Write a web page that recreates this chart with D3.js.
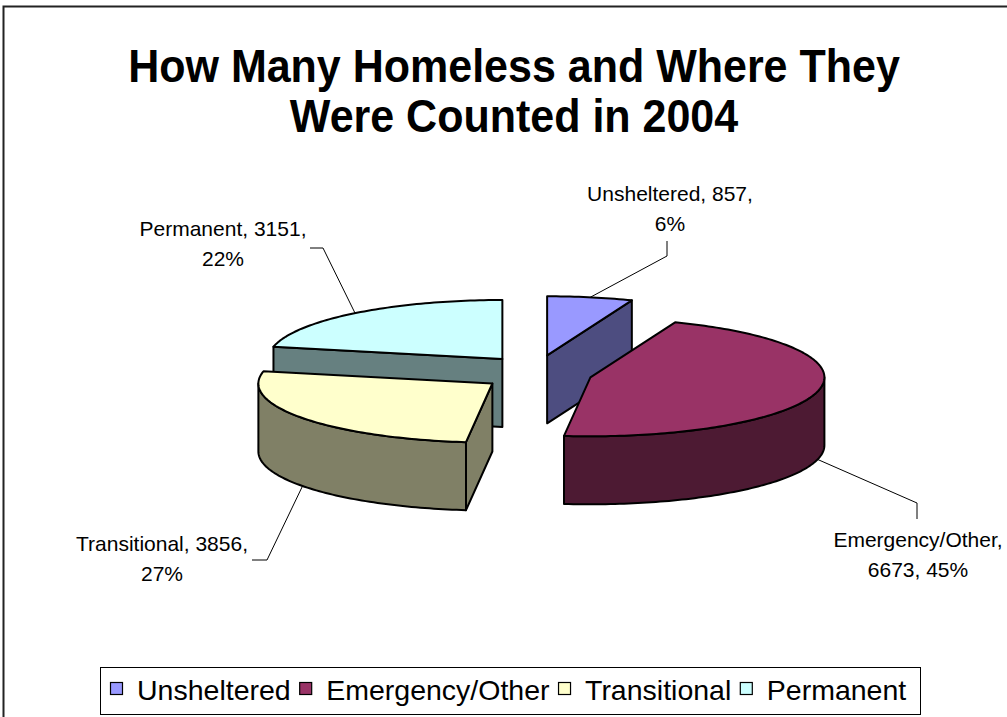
<!DOCTYPE html>
<html>
<head>
<meta charset="utf-8">
<script src="https://cdn.jsdelivr.net/npm/d3@7"></script>
<style>
  html, body { margin: 0; padding: 0; background: #fff; }
  svg { display: block; font-family: "Liberation Sans", Arial, sans-serif; }
</style>
</head>
<body>
<svg id="chart" width="1007" height="717"></svg>
<script>
// ---- data ----
const categories = ["Unsheltered", "Emergency/Other", "Transitional", "Permanent"];
const values = [857, 6673, 3856, 3151];
const percentLabels = ["6%", "45%", "27%", "22%"];
const titleLines = ["How Many Homeless and Where They", "Were Counted in 2004"];

// ---- styles ----
const topColors  = ["#9999FF", "#993366", "#FFFFCC", "#CCFFFF"];
const sideColors = ["#4D4D80", "#4D1A33", "#808066", "#668080"];

// ---- 3D pie geometry ----
const pieCenter = { x: 537, y: 373 };
const rx = 234, ry = 59, depth = 68;
const explode = { x: 55, y: 18 };

// label placement: centre x, first baseline, leader elbow and end
const labelLayout = [
  { cx: 670, y: 201, breakAfterValue: true,  elbow: [667, 256], end: [667, 241] },
  { cx: 918, y: 547, breakAfterValue: false, elbow: [917, 503], end: [917, 519] },
  { cx: 162, y: 551, breakAfterValue: true,  elbow: [267, 560], end: [252, 560] },
  { cx: 223, y: 236, breakAfterValue: true,  elbow: [323, 248], end: [310, 248] }
];
const lineGap = 30;

const svg = d3.select("#chart");

// outer frame (left and top edges visible)
svg.append("rect")
  .attr("x", 3.5).attr("y", 6.5)
  .attr("width", 1100).attr("height", 800)
  .attr("fill", "none").attr("stroke", "#222").attr("stroke-width", 2);

// title
const title = svg.append("g").attr("font-weight", "bold").attr("font-size", 47).attr("fill", "#000");
titleLines.forEach((t, i) => {
  title.append("text")
    .attr("transform", `translate(514,${82 + i * 50}) scale(0.915,1)`)
    .attr("text-anchor", "middle")
    .text(t);
});

// pie angles (clockwise from 12 o'clock)
const arcs = d3.pie().sort(null).startAngle(0).endAngle(2 * Math.PI)(values);

function centerOf(a) {
  const m = (a.startAngle + a.endAngle) / 2;
  return { x: pieCenter.x + explode.x * Math.sin(m), y: pieCenter.y - explode.y * Math.cos(m) };
}
function pt(c, th, h) {
  return [c.x + rx * Math.sin(th), c.y - ry * Math.cos(th) + (h || 0)];
}
function arcPoints(c, a0, a1, h) {
  const n = Math.max(2, Math.ceil(Math.abs(a1 - a0) / 0.02));
  return d3.range(n + 1).map(i => pt(c, a0 + (a1 - a0) * i / n, h));
}
const line = d3.line();

const slices = arcs.map((a, i) => ({ a, i, c: centerOf(a) }));
// paint back slices first
const order = slices.slice().sort((p, q) => p.c.y - q.c.y);

const pieG = svg.append("g")
  .attr("stroke", "#000").attr("stroke-width", 2).attr("stroke-linejoin", "round");

order.forEach(({ a, i, c }) => {
  const g = pieG.append("g");
  const a0 = a.startAngle, a1 = a.endAngle;
  const eps = 1e-6;
  // radial side faces
  if (Math.sin(a0) < -eps) {
    const p = pt(c, a0);
    g.append("path").attr("fill", sideColors[i])
      .attr("d", line([[c.x, c.y], p, [p[0], p[1] + depth], [c.x, c.y + depth]]) + "Z");
  }
  if (Math.sin(a1) > eps) {
    const p = pt(c, a1);
    g.append("path").attr("fill", sideColors[i])
      .attr("d", line([[c.x, c.y], p, [p[0], p[1] + depth], [c.x, c.y + depth]]) + "Z");
  }
  // outer rim (front half only)
  const f0 = Math.max(a0, Math.PI / 2), f1 = Math.min(a1, 3 * Math.PI / 2);
  if (f1 > f0) {
    const topEdge = arcPoints(c, f0, f1, 0);
    const botEdge = arcPoints(c, f1, f0, depth);
    g.append("path").attr("fill", sideColors[i])
      .attr("d", line(topEdge.concat(botEdge)) + "Z");
  }
  // top face
  g.append("path").attr("fill", topColors[i])
    .attr("d", line([[c.x, c.y]].concat(arcPoints(c, a0, a1, 0))) + "Z");
});

// data labels with leader lines
const labelG = svg.append("g").attr("font-size", 21).attr("fill", "#000");
slices.forEach(({ a, i, c }) => {
  const L = labelLayout[i];
  const m = (a.startAngle + a.endAngle) / 2;
  const anchor = pt(c, m, Math.cos(m) < 0 ? depth : 0);
  labelG.append("path")
    .attr("d", line([anchor, L.elbow, L.end]))
    .attr("fill", "none").attr("stroke", "#000").attr("stroke-width", 1);
  const lines = L.breakAfterValue
    ? [`${categories[i]}, ${values[i]},`, percentLabels[i]]
    : [`${categories[i]},`, `${values[i]}, ${percentLabels[i]}`];
  lines.forEach((t, k) => {
    labelG.append("text")
      .attr("x", L.cx).attr("y", L.y + k * lineGap)
      .attr("text-anchor", "middle").text(t);
  });
});

// legend
const legend = svg.append("g");
legend.append("rect")
  .attr("x", 100.5).attr("y", 667.5).attr("width", 820).attr("height", 47)
  .attr("fill", "#fff").attr("stroke", "#000").attr("stroke-width", 1);
let lx = 110.5;
categories.forEach((cat, i) => {
  legend.append("rect")
    .attr("x", lx).attr("y", 682.5).attr("width", 12).attr("height", 12)
    .attr("fill", topColors[i]).attr("stroke", "#000").attr("stroke-width", 1.2);
  const t = legend.append("text")
    .attr("x", lx + 26.5).attr("y", 700)
    .attr("font-size", 28.5).attr("fill", "#000").text(cat);
  lx += 26.5 + t.node().getComputedTextLength() + 9;
});
</script>
</body>
</html>
